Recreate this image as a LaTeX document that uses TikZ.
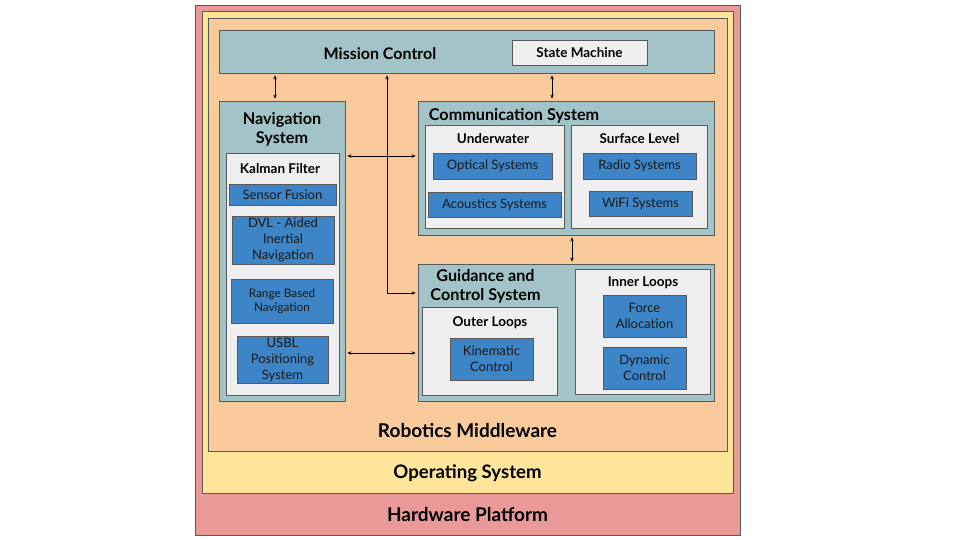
\documentclass[tikz,border=0pt]{standalone}
\usepackage{fontspec}
\setmainfont{Lato}
\usetikzlibrary{arrows.meta}
\definecolor{hwred}{HTML}{EA9999}
\definecolor{osyellow}{HTML}{FFE599}
\definecolor{mworange}{HTML}{F9CB9C}
\definecolor{subteal}{HTML}{A2C4C9}
\definecolor{grpgray}{HTML}{EFEFEF}
\definecolor{modblue}{HTML}{3D85C6}
\definecolor{edgegray}{HTML}{595959}
\begin{document}
\begin{tikzpicture}[x=1pt,y=-1pt,
  layer/.style={draw=edgegray,line width=0.8pt,inner sep=0pt},
  panel/.style={draw=edgegray,line width=0.8pt,fill=subteal,inner sep=0pt},
  group/.style={draw=edgegray,line width=0.8pt,fill=grpgray,inner sep=0pt},
  module/.style={draw=edgegray,line width=0.8pt,fill=modblue,inner sep=0pt,
    align=center,font=\fontsize{13}{16}\selectfont,text=black!90},
  title/.style={font=\bfseries\fontsize{19}{22}\selectfont,align=center},
  heading/.style={font=\bfseries\fontsize{16.2}{19}\selectfont,align=center},
  subtitle/.style={font=\bfseries\fontsize{13.5}{16}\selectfont},
  link/.style={{Stealth[length=4pt,width=3.5pt]}-{Stealth[length=4pt,width=3.5pt]},
    line width=0.7pt,shorten <=2pt,shorten >=2pt}]
\useasboundingbox (0,0) rectangle (960,540);

% layers
\node[layer,fill=hwred,minimum width=545pt,minimum height=530pt] (hw) at (467.5,270) {};
\node[layer,fill=osyellow,minimum width=531pt,minimum height=482pt] (os) at (467.5,252) {};
\node[layer,fill=mworange,minimum width=519pt,minimum height=433pt] (mw) at (467.5,234.5) {};
\node[title] (hwlabel) at (467.5,515) {Hardware Platform};
\node[title,font=\bfseries\fontsize{18.6}{22}\selectfont] (oslabel) at (467.5,473) {Operating System};
\node[title] (mwlabel) at (467.5,431) {Robotics Middleware};

% mission control
\node[panel,minimum width=495pt,minimum height=43pt] (mission) at (466.5,51.5) {};
\node[heading,font=\bfseries\fontsize{16}{19}\selectfont] (missionlabel) at (380,54) {Mission Control};
\node[group,minimum width=135pt,minimum height=25pt,subtitle] (sm) at (579.5,52.5) {State Machine};

% navigation
\node[panel,minimum width=126pt,minimum height=300pt] (nav) at (282,251) {};
\node[heading] (navlabel) at (282,129) {Navigation\\System};
\node[group,minimum width=113pt,minimum height=242pt] (kalman) at (282.5,274) {};
\node[subtitle] (kalmanlabel) at (280,168.5) {Kalman Filter};
\node[module,minimum width=107pt,minimum height=21pt] (fusion) at (282.5,194.5) {Sensor Fusion};
\node[module,minimum width=102pt,minimum height=48pt] (dvl) at (283,240) {DVL - Aided\\Inertial\\Navigation};
\node[module,minimum width=102pt,minimum height=44pt,font=\fontsize{11.8}{14}\selectfont] (range) at (282,301) {Range Based\\Navigation};
\node[module,minimum width=91pt,minimum height=47pt] (usbl) at (282.5,359.5) {USBL\\Positioning\\System};

% communication
\node[panel,minimum width=296pt,minimum height=134pt] (comm) at (566,168) {};
\node[heading] (commlabel) at (514,115.5) {Communication System};
\node[group,minimum width=139pt,minimum height=103pt] (under) at (494.5,176.5) {};
\node[subtitle] (underlabel) at (493,139) {Underwater};
\node[module,minimum width=119pt,minimum height=26pt] (optical) at (492.5,166) {Optical Systems};
\node[module,minimum width=133pt,minimum height=25pt] (acoustic) at (494.5,204.5) {Acoustics Systems};
\node[group,minimum width=136pt,minimum height=103pt] (surface) at (639,176.5) {};
\node[subtitle] (surfacelabel) at (639.5,139) {Surface Level};
\node[module,minimum width=113pt,minimum height=26pt] (radio) at (639.5,166) {Radio Systems};
\node[module,minimum width=103pt,minimum height=25pt] (wifi) at (640.5,203.5) {WiFi Systems};

% guidance and control
\node[panel,minimum width=296pt,minimum height=137pt] (gnc) at (566,332.5) {};
\node[heading] (gnclabel) at (485.5,286.5) {Guidance and\\Control System};
\node[group,minimum width=135pt,minimum height=88pt] (outer) at (489.5,351) {};
\node[subtitle] (outerlabel) at (490,323) {Outer Loops};
\node[module,minimum width=83pt,minimum height=42pt] (kinematic) at (491.5,359) {Kinematic\\Control};
\node[group,minimum width=135pt,minimum height=125pt] (inner) at (642.5,331.5) {};
\node[subtitle] (innerlabel) at (643,283) {Inner Loops};
\node[module,minimum width=83pt,minimum height=42pt] (force) at (644.5,316) {Force\\Allocation};
\node[module,minimum width=83pt,minimum height=42pt] (dynamic) at (644.5,368) {Dynamic\\Control};

% connectors
\draw[link] ([xshift=-7pt]nav.north) -- ([xshift=-7pt]nav.north |- mission.south);
\draw[link] ([xshift=-14pt]comm.north) -- ([xshift=-14pt]comm.north |- mission.south);
\draw[link] ([xshift=-79.5pt]mission.south) |- ([yshift=39.5pt]gnc.west);
\draw[link] ([yshift=95pt]nav.east) -- ([yshift=95pt]nav.east -| comm.west);
\draw[link] ([yshift=-102pt]nav.east) -- ([yshift=-102pt]nav.east -| gnc.west);
\draw[link] ([xshift=6pt]comm.south) -- ([xshift=6pt]gnc.north);
\end{tikzpicture}
\end{document}
